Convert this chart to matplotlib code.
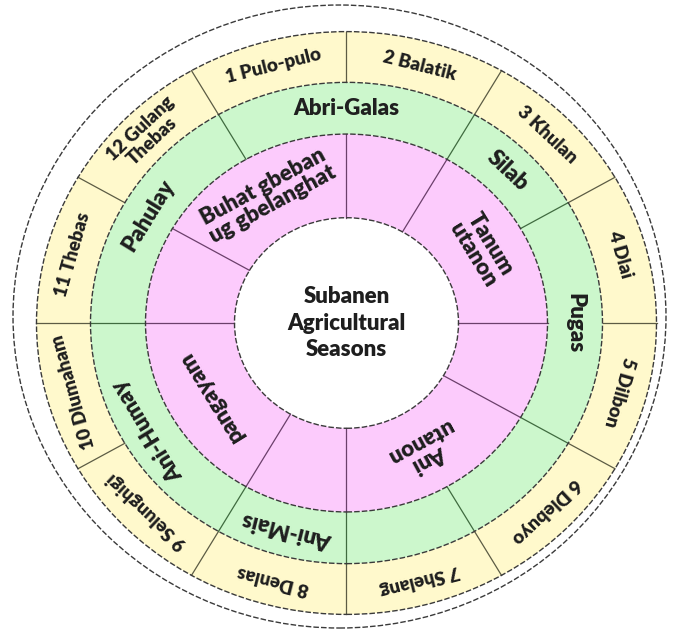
import matplotlib.pyplot as plt
from matplotlib.patches import Wedge, Circle, Ellipse
import numpy as np

plt.rcParams['font.family'] = ['Lato', 'DejaVu Sans']

# months, clockwise from the top (month 1 sits just left of 12 o'clock)
months = ["1 Pulo-pulo", "2 Balatik", "3 Khulan", "4 Dlai", "5 Dilbon",
          "6 Dlebuyo", "7 Shelang", "8 Denlas", "9 Selunghigi",
          "10 Dlumaham", "11 Thebas", "12 Gulang\nThebas"]
month_span = [1] * 12

# seasons (green ring) and how many months each one covers
seasons = ["Abri-Galas", "Silab", "Pugas", "", "", "Ani-Mais", "Ani-Humay", "Pahulay"]
season_span = [2, 1, 2, 1, 1, 1, 2, 2]

# activities (pink ring)
activities = ["Buhat gbeban\nug gbelanghat", "", "Tanum\nutanon", "",
              "Ani\nutanon", "", "pangayam", ""]
activity_span = [2, 1, 2, 1, 2, 1, 2, 1]

title = "Subanen\nAgricultural\nSeasons"

YELLOW = '#fff9cc'
GREEN = '#ccf7cc'
PINK = '#fccbfc'
SQ = 0.94  # picture is a bit squashed vertically
WEIGHT = 'heavy'

fig = plt.figure(figsize=(6.73, 6.36), dpi=100)
ax = fig.add_axes([0, 0, 1, 1])
ax.set_xlim(-346.5, 673 - 346.5)
ax.set_ylim(-(636 - 323) / SQ, 323 / SQ)
ax.axis('off')


def ring(labels, spans, start, r_in, r_out, face, line, fs):
    a = start
    for lab, n in zip(labels, spans):
        a2 = a - 30 * n
        ax.add_patch(Wedge((0, 0), r_out, a2, a, width=r_out - r_in,
                           facecolor=face, edgecolor='none', zorder=1))
        t = np.radians(a)
        ax.plot([r_in * np.cos(t), r_out * np.cos(t)],
                [r_in * np.sin(t), r_out * np.sin(t)],
                color=line, lw=0.9, zorder=2)
        if lab:
            m = np.radians((a + a2) / 2)
            rm = (r_in + r_out) / 2
            rot = np.degrees(np.arctan2(-SQ * np.cos(m), np.sin(m)))
            ax.text(rm * np.cos(m), rm * np.sin(m), lab, rotation=rot,
                    rotation_mode='anchor', ha='center', va='center',
                    fontsize=fs, fontweight=WEIGHT, color='#1e1e1e',
                    linespacing=0.95, zorder=3)
        a = a2


ring(months, month_span, 120, 256, 310, YELLOW, '#5c5c44', 13.5)
ring(seasons, season_span, 120, 201, 256, GREEN, '#3f6b3f', 16)
ring(activities, activity_span, 150, 112, 201, PINK, '#6b3f6b', 16)

for r in [112, 201, 256, 310]:
    ax.add_patch(Circle((0, 0), r, fill=False, edgecolor='#3a3a3a',
                        lw=1.0, linestyle=(0, (4, 1.5)), zorder=2.5))
ax.add_patch(Ellipse((-7, 6.9), 653, 2 * 311.5 / SQ, fill=False,
                     edgecolor='#3a3a3a', lw=1.0, linestyle=(0, (4, 1.5))))

ax.text(0, 0, title, ha='center', va='center', fontsize=16,
        fontweight=WEIGHT, color='#1e1e1e', linespacing=1.35, zorder=3)

fig.savefig('out.png', dpi=100, facecolor='white')
